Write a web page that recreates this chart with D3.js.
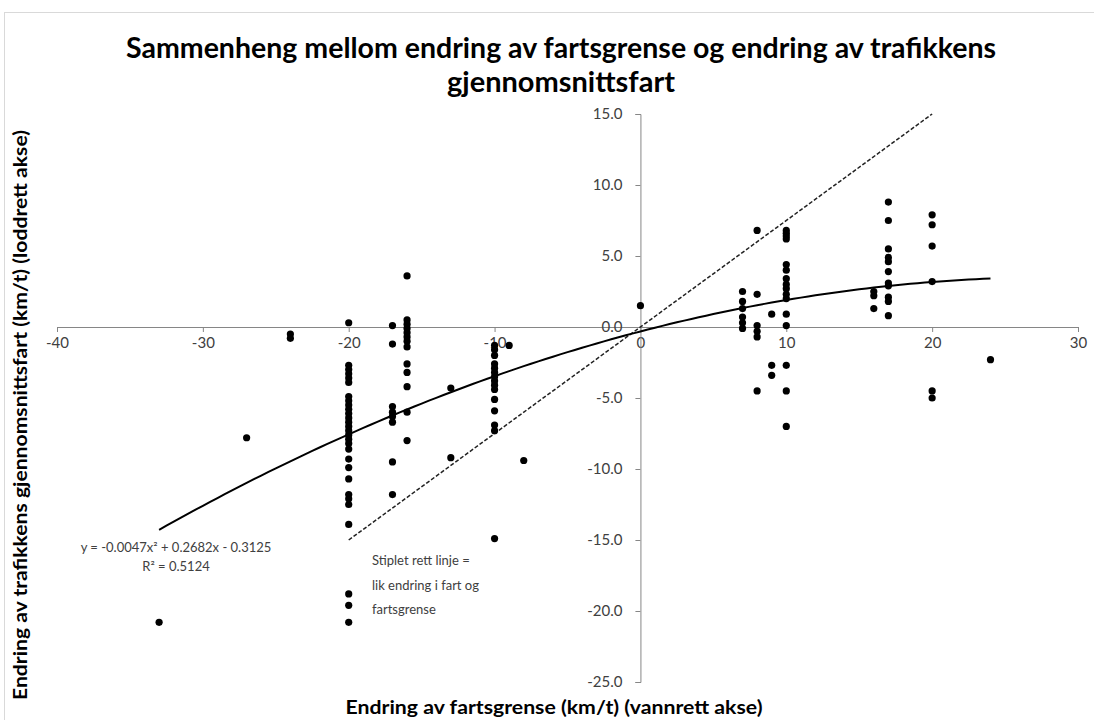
<!DOCTYPE html>
<html>
<head>
<meta charset="utf-8">
<script src="https://cdn.jsdelivr.net/npm/d3@7"></script>
<style>
  body { margin: 0; background: #fff; }
  svg { display: block; font-family: Lato, "Open Sans", sans-serif; }
</style>
</head>
<body>
<div id="chart"></div>
<script>
// endring av fartsgrense (x) -> endring av gjennomsnittsfart (y), one list per x value
var limitChanges = [-33, -27, -24, -20, -17, -16, -13, -10, -9, -8, 0, 7, 8, 9, 10, 16, 17, 20, 24];
var speedChanges = [
    [-20.8],
    [-7.8],
    [-0.5, -0.8],
    [0.3, -2.7, -3.0, -3.3, -3.6, -3.9, -4.9, -5.2, -5.5, -5.8, -6.1, -6.4, -6.7, -7.0, -7.3,
     -7.6, -7.9, -8.2, -8.6, -9.3, -9.9, -10.7, -11.8, -12.1, -12.5, -13.9, -18.8, -19.6, -20.8],
    [0.1, -1.2, -5.6, -6.0, -6.3, -6.7, -9.5, -11.8],
    [3.6, 0.5, 0.2, -0.1, -0.4, -0.7, -1.0, -1.4, -2.6, -3.2, -4.2, -6.0, -8.0],
    [-4.3, -9.2],
    [-1.3, -1.6, -2.0, -2.6, -2.9, -3.2, -3.5, -3.8, -4.1, -4.4, -5.1, -5.9, -6.9, -7.3, -14.9],
    [-1.3],
    [-9.4],
    [1.5],
    [2.5, 1.8, 1.3, 0.7, 0.3, -0.1],
    [6.8, 2.3, 0.1, -0.3, -0.7, -4.5],
    [0.9, -2.7, -3.4],
    [6.8, 6.6, 6.4, 6.2, 4.4, 4.0, 3.4, 3.0, 2.7, 2.3, 2.0, 0.9, 0.1, -2.7, -4.5, -7.0],
    [2.5, 2.2, 1.3],
    [8.8, 7.5, 5.5, 4.9, 4.6, 3.9, 3.1, 2.9, 2.1, 1.8, 0.8],
    [7.9, 7.2, 5.7, 3.2, -4.5, -5.0],
    [-2.3]
];

var xTicks = [-40, -30, -20, -10, 0, 10, 20, 30];
var yTicks = [15, 10, 5, 0, -5, -10, -15, -20, -25];

// polynomial trendline y = a x^2 + b x + c, drawn over the data range
var trendCoef = [-0.0047, 0.2682, -0.3125];
var trendRange = [-33, 24];
// dashed reference line end points
var refLine = [[-20, -15], [20, 15]];

var equationLines = ["y = -0.0047x\u00b2 + 0.2682x - 0.3125", "R\u00b2 = 0.5124"];
var noteLines = ["Stiplet rett linje =", "lik endring  i fart og", "fartsgrense"];
var titleLines = ["Sammenheng mellom endring av fartsgrense og endring av trafikkens", "gjennomsnittsfart"];

var width = 1094, height = 720;

var svg = d3.select('#chart').append('svg')
    .attr('width', width).attr('height', height);

// chart area frame
svg.append('rect').attr('x', 4.5).attr('y', 12.5)
    .attr('width', width).attr('height', height)
    .attr('fill', 'none').attr('stroke', '#d9d9d9');

var x = d3.scaleLinear().domain([-40, 30]).range([57, 1078]);
var y = d3.scaleLinear().domain([-25, 15]).range([682, 114]);

// plain hyphen minus like the original
var fmtX = function(d) { return String(d); };
var fmtY = function(d) { return d.toFixed(1); };

// title
var titleWidths = [870, 228];
svg.append('g').selectAll('text').data(titleLines).enter().append('text')
    .attr('x', 561).attr('y', function(d, i) { return 58 + i * 34; })
    .attr('text-anchor', 'middle')
    .attr('textLength', function(d, i) { return titleWidths[i]; })
    .attr('lengthAdjust', 'spacingAndGlyphs')
    .style('font-size', '28px').style('font-weight', 'bold').style('fill', '#000')
    .text(function(d) { return d; });

// x axis through y = 0
var xAxis = svg.append('g').attr('transform', 'translate(0,' + y(0) + ')')
    .call(d3.axisBottom(x).tickValues(xTicks).tickSize(5).tickPadding(5).tickFormat(fmtX));
xAxis.select('.domain').attr('stroke', '#868686');
xAxis.selectAll('.tick line').attr('stroke', '#868686');
xAxis.selectAll('.tick text').style('font-size', '15px').style('fill', '#404040')
    .style('font-family', 'Lato, sans-serif');

// y axis through x = 0
var yAxis = svg.append('g').attr('transform', 'translate(' + x(0) + ',0)')
    .call(d3.axisLeft(y).tickValues(yTicks).tickSize(5).tickPadding(13).tickFormat(fmtY));
yAxis.select('.domain').attr('stroke', '#868686');
yAxis.selectAll('.tick line').attr('stroke', '#868686');
yAxis.selectAll('.tick text').style('font-size', '15px').style('fill', '#404040')
    .style('font-family', 'Lato, sans-serif');

// dashed reference line
svg.append('line')
    .attr('x1', x(refLine[0][0])).attr('y1', y(refLine[0][1]))
    .attr('x2', x(refLine[1][0])).attr('y2', y(refLine[1][1]))
    .attr('stroke', '#222').attr('stroke-width', 1.5).attr('stroke-dasharray', '4,2');

// trendline
var trendPts = d3.range(trendRange[0], trendRange[1] + 0.01, 0.5).map(function(v) {
    return [v, trendCoef[0] * v * v + trendCoef[1] * v + trendCoef[2]];
});
svg.append('path').datum(trendPts)
    .attr('fill', 'none').attr('stroke', '#000').attr('stroke-width', 2)
    .attr('d', d3.line().x(function(d) { return x(d[0]); }).y(function(d) { return y(d[1]); }));

// points
var points = [];
limitChanges.forEach(function(lc, i) {
    speedChanges[i].forEach(function(sc) { points.push([lc, sc]); });
});
svg.append('g').selectAll('circle').data(points).enter().append('circle')
    .attr('cx', function(d) { return x(d[0]); })
    .attr('cy', function(d) { return y(d[1]); })
    .attr('r', 3.6).attr('fill', '#000');

// equation label
svg.append('g').selectAll('text').data(equationLines).enter().append('text')
    .attr('x', 176).attr('y', function(d, i) { return 552 + i * 19; })
    .attr('text-anchor', 'middle')
    .style('font-size', '13px').style('fill', '#404040')
    .text(function(d) { return d; });

// note on dashed line
svg.append('g').selectAll('text').data(noteLines).enter().append('text')
    .attr('x', 372).attr('y', function(d, i) { return 565 + i * 24.5; })
    .style('font-size', '13px').style('fill', '#404040')
    .text(function(d) { return d; });

// axis titles
svg.append('text')
    .attr('x', 554).attr('y', 714).attr('text-anchor', 'middle')
    .attr('textLength', 417).attr('lengthAdjust', 'spacingAndGlyphs')
    .style('font-size', '19px').style('font-weight', 'bold')
    .text('Endring av fartsgrense (km/t) (vannrett akse)');

svg.append('text')
    .attr('transform', 'translate(27,' + 415 + ') rotate(-90)')
    .attr('text-anchor', 'middle')
    .attr('textLength', 570).attr('lengthAdjust', 'spacingAndGlyphs')
    .style('font-size', '19px').style('font-weight', 'bold')
    .text('Endring av trafikkens gjennomsnittsfart (km/t) (loddrett akse)');
</script>
</body>
</html>
